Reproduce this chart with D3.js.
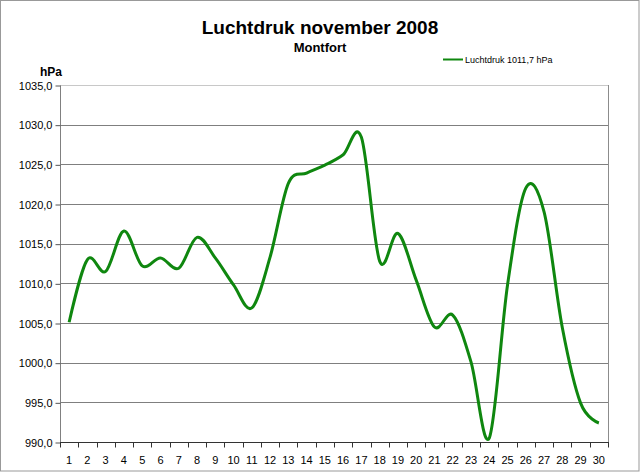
<!DOCTYPE html>
<html>
<head>
<meta charset="utf-8">
<script src="https://cdn.jsdelivr.net/npm/d3@7"></script>
<style>
  body { margin: 0; background: #fff; }
  text { font-family: "Liberation Sans", Arial, sans-serif; }
</style>
</head>
<body>
<svg id="chart" width="640" height="473"></svg>
<script>
// data: daily air pressure, November 2008, Montfort
var days = d3.range(1, 31);
var pressure = [1005.1, 1013.0, 1011.5, 1016.6, 1012.2, 1013.2, 1011.9, 1015.8, 1013.2, 1009.8,
                1006.9, 1013.3, 1022.6, 1023.9, 1024.9, 1026.2, 1028.4, 1012.8, 1016.3, 1010.4,
                1004.5, 1006.0, 1000.1, 990.5, 1009.8, 1022.0, 1019.0, 1004.4, 994.9, 992.4];
var yTicks = [990, 995, 1000, 1005, 1010, 1015, 1020, 1025, 1030, 1035];
var legendLabel = "Luchtdruk 1011,7 hPa";

var svg = d3.select("#chart"),
    width = +svg.attr("width"),
    height = +svg.attr("height");

// plot area (note: "top" is reserved on window, so use pTop etc.)
var pLeft = 60, pRight = 608, pTop = 85, pBottom = 442;

// outer frame
svg.append("rect")
    .attr("x", 0.5).attr("y", 0.5)
    .attr("width", width - 1.5).attr("height", height - 2.5)
    .attr("fill", "#fff").attr("stroke", "#999");

var x = d3.scaleBand().domain(days).range([pLeft, pRight]).padding(0);
var y = d3.scaleLinear().domain([990, 1035]).range([pBottom, pTop]);

// gridlines
svg.append("g")
    .selectAll("line")
    .data(yTicks.slice(1))
    .enter().append("line")
    .attr("x1", pLeft).attr("x2", pRight)
    .attr("y1", function(d) { return Math.round(y(d)) + 0.5; })
    .attr("y2", function(d) { return Math.round(y(d)) + 0.5; })
    .attr("stroke", function(d) { return d == 1035 ? "#c8c8c8" : "#7f7f7f"; })
    .attr("stroke-width", 1);

// right border of plot area
svg.append("line")
    .attr("x1", pRight + 0.5).attr("x2", pRight + 0.5)
    .attr("y1", pTop).attr("y2", pBottom)
    .attr("stroke", "#8c8c8c");

// y axis
var yAxis = svg.append("g")
    .attr("transform", "translate(" + (pLeft + 0.5) + ",0.5)")
    .call(d3.axisLeft(y).tickValues(yTicks).tickSize(5).tickPadding(3)
        .tickFormat(function(d) { return d3.format(".1f")(d).replace(".", ","); }));
yAxis.select(".domain").attr("stroke", "#808080").attr("d", "M0," + pTop + "V" + pBottom);
yAxis.selectAll(".tick line").attr("stroke", "#555");
yAxis.selectAll("text").attr("font-size", 11).attr("fill", "#000")
    .attr("font-family", "Liberation Sans, Arial, sans-serif");

// x axis
var xLin = d3.scaleLinear().domain([0, 30]).range([pLeft, pRight]);
var xAxis = svg.append("g")
    .attr("transform", "translate(0," + (pBottom + 0.5) + ")");
xAxis.append("line")
    .attr("x1", pLeft).attr("x2", pRight + 1)
    .attr("stroke", "#333");
xAxis.selectAll("line.tk")
    .data(d3.range(0, 31))
    .enter().append("line")
    .attr("class", "tk")
    .attr("x1", function(d) { return Math.round(xLin(d)) + 0.5; })
    .attr("x2", function(d) { return Math.round(xLin(d)) + 0.5; })
    .attr("y1", 0).attr("y2", 5)
    .attr("stroke", "#333");
xAxis.selectAll("text")
    .data(days)
    .enter().append("text")
    .attr("x", function(d) { return x(d) + x.bandwidth() / 2; })
    .attr("y", 21)
    .attr("text-anchor", "middle")
    .attr("font-size", 11)
    .text(function(d) { return d; });

// line, Excel-style smoothing
var line = d3.line()
    .x(function(d, i) { return x(days[i]) + x.bandwidth() / 2; })
    .y(function(d) { return y(d); })
    .curve(d3.curveCardinal.tension(0));

svg.append("path")
    .datum(pressure)
    .attr("fill", "none")
    .attr("stroke", "#0f870f")
    .attr("stroke-width", 3)
    .attr("stroke-linejoin", "round")
    .attr("d", line);

// titles
svg.append("text")
    .attr("x", 320).attr("y", 34)
    .attr("text-anchor", "middle")
    .attr("font-size", 19).attr("font-weight", "bold")
    .text("Luchtdruk november 2008");
svg.append("text")
    .attr("x", 320).attr("y", 52)
    .attr("text-anchor", "middle")
    .attr("font-size", 13).attr("font-weight", "bold")
    .text("Montfort");
svg.append("text")
    .attr("x", 51).attr("y", 76)
    .attr("text-anchor", "middle")
    .attr("font-size", 12).attr("font-weight", "bold")
    .text("hPa");

// legend
svg.append("line")
    .attr("x1", 443).attr("x2", 463)
    .attr("y1", 59.5).attr("y2", 59.5)
    .attr("stroke", "#0f870f").attr("stroke-width", 2);
svg.append("text")
    .attr("x", 465).attr("y", 63)
    .attr("font-size", 9)
    .text(legendLabel);
</script>
</body>
</html>
